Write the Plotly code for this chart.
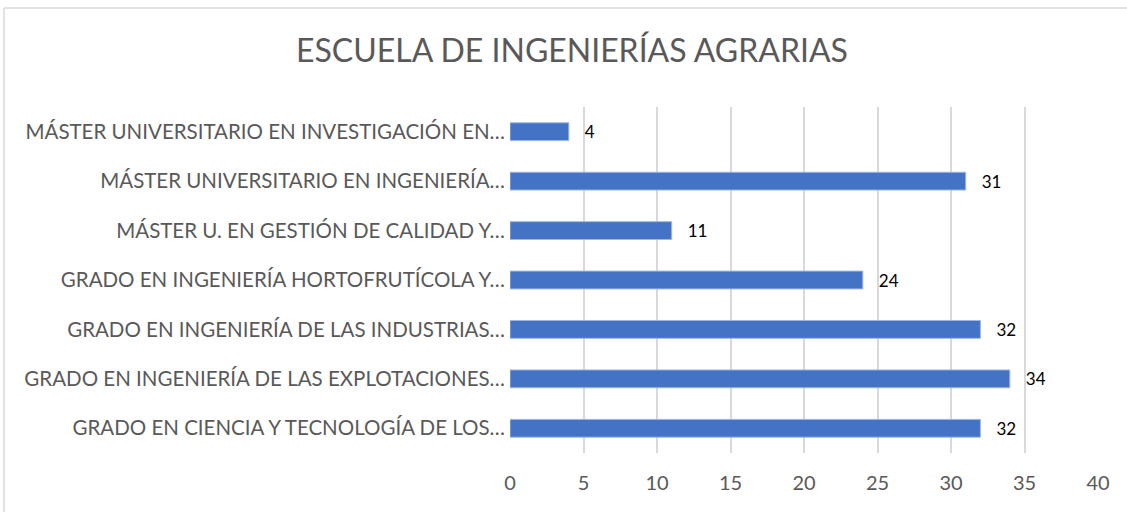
import plotly.graph_objects as go

categories = [
    "GRADO EN CIENCIA Y TECNOLOGÍA DE LOS…",
    "GRADO EN INGENIERÍA DE LAS EXPLOTACIONES…",
    "GRADO EN INGENIERÍA DE LAS INDUSTRIAS…",
    "GRADO EN INGENIERÍA HORTOFRUTÍCOLA Y…",
    "MÁSTER U. EN GESTIÓN DE CALIDAD Y…",
    "MÁSTER UNIVERSITARIO EN INGENIERÍA…",
    "MÁSTER UNIVERSITARIO EN INVESTIGACIÓN EN…",
]
values = [32, 34, 32, 24, 11, 31, 4]
x_ticks = [0, 5, 10, 15, 20, 25, 30, 35, 40]
title = "ESCUELA DE INGENIERÍAS AGRARIAS"

FONT = "Lato, 'Open Sans', sans-serif"

fig = go.Figure(go.Bar(
    y=categories, x=values, orientation="h",
    marker=dict(color="#4472C4", line=dict(color="#9DB6E3", width=1)),
    width=0.36,
    text=[f"   {v}" for v in values], textposition="outside",
    constraintext="none",
    textfont=dict(family=FONT, size=17, color="#000000"),
    cliponaxis=False,
))

fig.update_layout(
    width=1127, height=512,
    margin=dict(l=510, r=29, t=107, b=59),
    paper_bgcolor="white", plot_bgcolor="white",
    title=dict(text=title, x=572 / 1127, xref="container", xanchor="center",
               y=1 - 51 / 512, yref="container", yanchor="middle",
               font=dict(family=FONT, size=32, color="#595959")),
    showlegend=False,
)
fig.update_xaxes(range=[0, 40], tickvals=x_ticks, showgrid=True,
                 gridcolor="#D9D9D9", gridwidth=2, zeroline=False,
                 showline=False, ticks="", ticklabelstandoff=16,
                 tickfont=dict(family=FONT, size=20, color="#595959"))
fig.update_yaxes(showgrid=False, zeroline=False, showline=False, ticks="",
                 ticklabelstandoff=4, categoryorder="array", categoryarray=categories,
                 tickfont=dict(family=FONT, size=20.5, color="#595959"))

# thin gray chart border (top and left edges)
fig.add_shape(type="line", xref="paper", yref="paper",
              x0=(4 - 510) / 588, x1=(1127 - 510) / 588,
              y0=(453 - 8) / 346, y1=(453 - 8) / 346,
              line=dict(color="#D9D9D9", width=1.5))
fig.add_shape(type="line", xref="paper", yref="paper",
              x0=(4 - 510) / 588, x1=(4 - 510) / 588,
              y0=(453 - 8) / 346, y1=(453 - 512) / 346,
              line=dict(color="#D9D9D9", width=1.5))

fig.write_html("out.html", config={"displayModeBar": False},
               post_script="document.body.style.margin='0';")
